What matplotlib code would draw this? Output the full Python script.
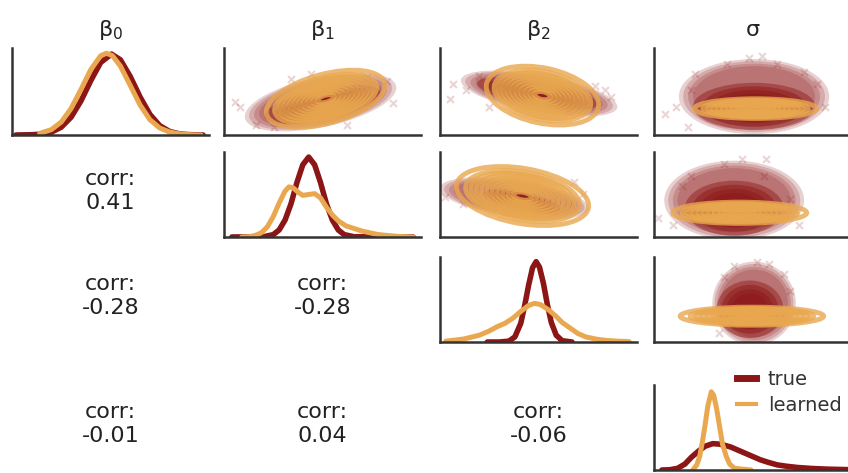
import matplotlib.pyplot as plt
from matplotlib.patches import Ellipse
from matplotlib.lines import Line2D

true_color = "#8c1515"
learned_color = "#e9a84f"

names = ["β$_0$", "β$_1$", "β$_2$", "σ"]

# diagonal kdes (x in % of panel range, y as share of panel height)
b0_true_x = [2, 10, 15, 20, 25, 30, 35, 40, 45, 50.5, 55, 60, 65, 70, 75, 80, 85, 90, 97]
b0_true_y = [0.0, 0.003, 0.01, 0.033, 0.09, 0.205, 0.392, 0.626, 0.834, 0.93, 0.865, 0.673, 0.437, 0.237, 0.107, 0.041, 0.013, 0.004, 0.0]
b0_learned_x = [14, 20, 25, 30, 35, 40, 45, 48, 51, 55, 60, 65, 70, 75, 80, 85, 90, 96]
b0_learned_y = [0.018, 0.062, 0.149, 0.305, 0.523, 0.752, 0.911, 0.94, 0.911, 0.793, 0.571, 0.345, 0.176, 0.08, 0.035, 0.013, 0.004, 0.0]

b1_true_x = [4, 20, 25, 28, 31, 34, 37, 40, 43, 46, 49, 52, 55, 58, 61, 66, 96]
b1_true_y = [0.0, 0.003, 0.028, 0.083, 0.2, 0.39, 0.64, 0.85, 0.94, 0.85, 0.64, 0.39, 0.2, 0.083, 0.028, 0.003, 0.0]
b1_learned_x = [9, 13, 16, 19, 22, 25, 28, 31, 33, 35, 38, 40, 43, 46, 49, 52, 55, 58, 62, 66, 70, 74, 78, 82, 88, 96]
b1_learned_y = [0.0, 0.005, 0.02, 0.05, 0.12, 0.24, 0.4, 0.54, 0.59, 0.58, 0.52, 0.49, 0.5, 0.51, 0.46, 0.35, 0.26, 0.19, 0.13, 0.1, 0.07, 0.05, 0.03, 0.02, 0.008, 0.0]

b2_true_x = [24, 30, 35, 38, 41, 43, 45, 47, 48.8, 50.5, 52.5, 54.5, 56.5, 59, 62, 67]
b2_true_y = [0.0, 0.0, 0.01, 0.06, 0.22, 0.43, 0.67, 0.875, 0.945, 0.88, 0.69, 0.44, 0.23, 0.08, 0.015, 0.0]
b2_learned_x = [3, 12, 20, 25, 29, 33, 37, 41, 45, 48, 51, 55, 59, 62, 66, 70, 74, 79, 84, 90, 96]
b2_learned_y = [0.01, 0.035, 0.08, 0.13, 0.18, 0.22, 0.28, 0.36, 0.43, 0.455, 0.44, 0.38, 0.3, 0.23, 0.165, 0.1, 0.06, 0.035, 0.02, 0.01, 0.005]

s_true_x = [4, 8, 12, 15.7, 19, 23, 26, 29.8, 33, 36, 39, 42.5, 46, 50, 54, 58, 62.6, 67, 72.7, 80, 88, 99]
s_true_y = [0.0, 0.003, 0.02, 0.07, 0.15, 0.23, 0.28, 0.31, 0.305, 0.29, 0.27, 0.235, 0.2, 0.16, 0.12, 0.09, 0.06, 0.045, 0.03, 0.018, 0.01, 0.004]
s_learned_x = [19.7, 21.7, 23.2, 24.7, 25.8, 27.3, 29.1, 30.3, 31.8, 33.3, 34.8, 36.7, 38.4, 40.9, 49.3]
s_learned_y = [0.0, 0.06, 0.16, 0.35, 0.51, 0.75, 0.92, 0.88, 0.72, 0.51, 0.3, 0.16, 0.07, 0.02, 0.0]

diag_true = [(b0_true_x, b0_true_y), (b1_true_x, b1_true_y), (b2_true_x, b2_true_y), (s_true_x, s_true_y)]
diag_learned = [(b0_learned_x, b0_learned_y), (b1_learned_x, b1_learned_y), (b2_learned_x, b2_learned_y), (s_learned_x, s_learned_y)]

# lower triangle correlations
corr_cells = [(1, 0), (2, 0), (2, 1), (3, 0), (3, 1), (3, 2)]
corr_values = [0.41, -0.28, -0.28, -0.01, 0.04, -0.06]

# upper triangle: sample clouds (true) and kde contours (learned)
# each shape: center x, center y, semi-axis a, semi-axis b, angle
pair_cells = [(0, 1), (0, 2), (0, 3), (1, 2), (1, 3), (2, 3)]
cloud_outer = [(49, 16.7, 37, 12, 12), (50.3, 21, 38, 9, -10), (50.8, 19.5, 36, 18, 0),
               (37.7, 19.6, 36, 9, -8), (40.7, 18.6, 33.5, 19, 0), (50.8, 19.6, 20, 20, 0)]
cloud_core = [(50, 15.5, 30, 8, 12), (49.4, 21, 31, 6.5, -10), (50.8, 14.5, 31, 12, 0),
              (41.5, 18, 20, 5, -12), (40.7, 14.6, 25, 14, 0), (48.7, 16.6, 17, 14.6, 0)]
kde_shape = [(51.6, 18.4, 31, 12.5, 15), (52, 20, 29, 14, -12), (51.5, 13.4, 31, 5, 0),
             (41.9, 20.8, 34, 14, -10), (43.5, 12.3, 34, 5.4, 0), (49.7, 13.1, 36.4, 4.6, 0)]
kde_levels = [1.0, 0.86, 0.78, 0.7, 0.62, 0.54, 0.46, 0.38, 0.3, 0.22, 0.14]
fringe_x = [[5.5, 16.4, 8, 82.6, 86, 72.5, 44, 34, 62.5, 25.6],
            [6.7, 5, 13.4, 20, 83.8, 87, 78.7, 25, 65],
            [5.5, 11.4, 20.6, 19, 48, 55, 37.3, 76, 82.6, 86.8, 62.5, 17.2],
            [2.5, 72.4, 68.2, 11.7],
            [2.2, 56.6, 44.9, 35.7, 19, 73.4, 69.2, 55.8, 9.7, 14],
            [40.7, 52.4, 58.3, 65.8, 69.2, 35.7, 33]]
fringe_y = [[16.7, 5.0, 14.2, 27.6, 16, 29.3, 31, 28.5, 5, 4.2],
            [26, 18.4, 22.6, 30, 22.6, 19.3, 25, 14.2, 11.7],
            [10.9, 14.2, 31, 22.6, 39.3, 40.2, 36, 31.8, 26, 14.2, 36, 4.2],
            [20.3, 22, 27.8, 17],
            [9.4, 39.5, 39.5, 37, 31.2, 6, 19.4, 31.2, 6, 26],
            [38.7, 40.4, 39.5, 34.5, 26.1, 32.8, 4.4]]

W, H = 848, 473
col_left = [12, 224, 440, 654]
col_w = 197
row_top = [48, 152, 257, 385]
row_h = [87, 85, 85, 85]

fig = plt.figure(figsize=(W / 100, H / 100), dpi=100)
axes = [[None] * 4 for _ in range(4)]
for i in range(4):
    for j in range(4):
        ax = fig.add_axes([col_left[j] / W, 1 - (row_top[i] + row_h[i]) / H, col_w / W, row_h[i] / H])
        axes[i][j] = ax
        ax.set_xticks([])
        ax.set_yticks([])
        for s in ["top", "right"]:
            ax.spines[s].set_visible(False)
        for s in ["left", "bottom"]:
            ax.spines[s].set_color("#333333")
            ax.spines[s].set_linewidth(1.8)
        if i > j:
            ax.axis("off")

for j in range(4):
    axes[0][j].set_title(names[j], fontsize=16, pad=9, color="#222222")

# diagonal
for k in range(4):
    ax = axes[k][k]
    ax.plot(*diag_true[k], color=true_color, lw=4, solid_capstyle="round")
    ax.plot(*diag_learned[k], color=learned_color, lw=3.6, solid_capstyle="round")
    ax.set_xlim(0, 100)
    ax.set_ylim(0, 1)

# lower triangle
for (i, j), v in zip(corr_cells, corr_values):
    axes[i][j].text(0.5, 0.54, "corr:\n{:.2f}".format(v), transform=axes[i][j].transAxes,
                    ha="center", va="center", fontsize=16, color="#222222", linespacing=1.25)

# upper triangle
for n, (i, j) in enumerate(pair_cells):
    ax = axes[i][j]
    cx, cy, a, b, ang = cloud_outer[n]
    for s in [1.06, 1.0, 0.93, 0.86]:
        ax.add_patch(Ellipse((cx, cy), 2 * a * s, 2 * b * s, angle=ang, facecolor=true_color,
                             edgecolor="none", alpha=0.2, zorder=1))
    cx, cy, a, b, ang = cloud_core[n]
    for s in [1.0, 0.85, 0.7, 0.55]:
        ax.add_patch(Ellipse((cx, cy), 2 * a * s, 2 * b * s, angle=ang, facecolor=true_color,
                             edgecolor="none", alpha=0.45, zorder=1))
    ax.scatter(fringe_x[n], fringe_y[n], marker="x", s=25, color=true_color, alpha=0.18, lw=1.5, zorder=1)
    cx, cy, a, b, ang = kde_shape[n]
    for s in kde_levels:
        ax.add_patch(Ellipse((cx, cy), 2 * a * s, 2 * b * s, angle=ang, facecolor="none",
                             edgecolor=learned_color, lw=3.5, alpha=0.8, zorder=2))
    ax.set_xlim(0, 100)
    ax.set_ylim(0, 100 * row_h[i] / col_w)

handles = [Line2D([], [], color=true_color, lw=5), Line2D([], [], color=learned_color, lw=3)]
leg = axes[3][3].legend(handles, ["true", "learned"], loc="upper left", bbox_to_anchor=(0.42, 1.18),
                        frameon=False, fontsize=14, handlelength=1.0, handletextpad=0.6,
                        labelspacing=0.35, borderaxespad=0, borderpad=0)
for t in leg.get_texts():
    t.set_color("#333333")

fig.savefig("out.png", dpi=100)
